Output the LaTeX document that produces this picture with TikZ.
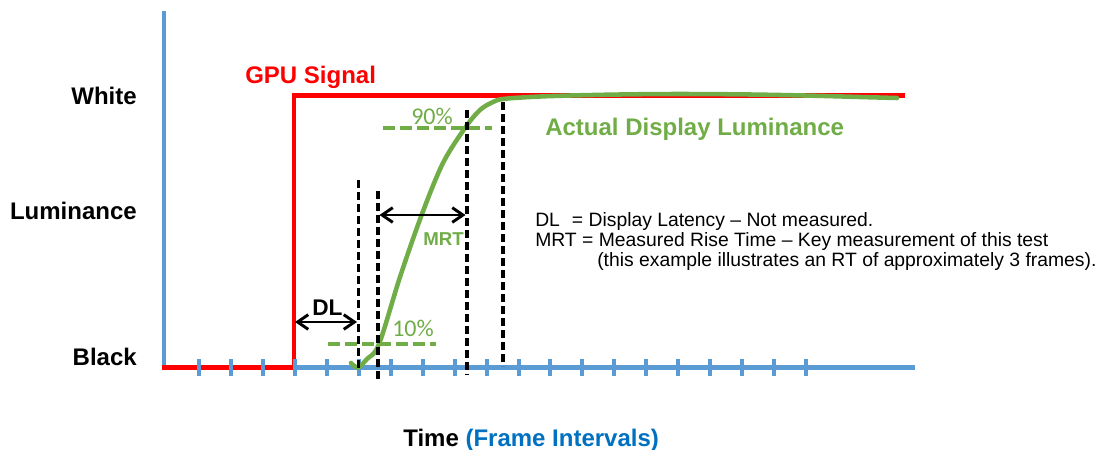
\documentclass[tikz,border=0pt]{standalone}
\usepackage{fontspec}
\setmainfont{Liberation Sans}
\newfontfamily\calib{Carlito}
\usetikzlibrary{arrows.meta}
\definecolor{axisblue}{HTML}{5B9BD5}
\definecolor{sigred}{HTML}{FF0000}
\definecolor{lumgreen}{HTML}{70AD47}
\definecolor{textblue}{HTML}{0070C0}
\begin{document}
\begin{tikzpicture}[x=0.75pt,y=-0.75pt,
  axisline/.style={axisblue,line width=3.2pt},
  tickmark/.style={axisblue,line width=3pt},
  gpuline/.style={sigred,line width=3.4pt,line join=miter},
  lumline/.style={lumgreen,line width=3.4pt,line cap=round},
  markerline/.style={black,line width=2.5pt,dash pattern=on 6pt off 3pt},
  levelline/.style={lumgreen,line width=3pt,dash pattern=on 9pt off 3.75pt},
  spanarrow/.style={black,line width=2.2pt,{Straight Barb[length=8pt,width=11pt]}-{Straight Barb[length=8pt,width=11pt]}},
  bigbold/.style={font=\fontsize{18}{21}\selectfont\bfseries,inner sep=0pt},
  pct/.style={font=\calib\fontsize{18}{21}\selectfont,text=lumgreen,inner sep=0pt,anchor=base west},
  legendtext/.style={font=\fontsize{14.5}{17}\selectfont,inner sep=0pt,anchor=base west}
]
\useasboundingbox (0,0) rectangle (1115,450);

% axes
\coordinate (ytop) at (164,11);
\coordinate (origin) at (164,367.5);
\coordinate (xend) at (915,367.5);
\draw[axisline] (ytop) -- (origin) -- (xend);

% GPU signal
\coordinate (g0) at (162,367.5);
\coordinate (g1) at (294,367.5);
\coordinate (g2) at (294,95.5);
\coordinate (g3) at (905,95.5);
\draw[gpuline] (g0) -- (g1) -- (g2) -- (g3);

% frame ticks
\foreach \i in {0,...,19} \draw[tickmark] ({199+31.95*\i},359) -- ++(0,17);

% display luminance curve
\draw[lumline] plot[smooth,tension=0.55] coordinates {(351,363) (358,367.5) (367,359) (379,344) (400,277) (422,214) (443,163) (465,128) (480,110) (493,102) (503,99) (530,97) (563,95.7) (620,94.5) (680,94) (750,94.5) (813,95.7) (860,97) (897,98)};

% 10% / 90% levels
\coordinate (l10a) at (328,344); \coordinate (l10b) at (436,344);
\coordinate (l90a) at (383,128); \coordinate (l90b) at (492,128);
\draw[levelline] (l10a) -- (l10b);
\draw[levelline] (l90a) -- (l90b);

% vertical markers
\coordinate (m1t) at (358.5,180); \coordinate (m1b) at (358.5,369);
\coordinate (m2t) at (378,191);   \coordinate (m2b) at (378,380);
\coordinate (m3t) at (467,110);   \coordinate (m3b) at (467,375);
\coordinate (m4t) at (503,102);   \coordinate (m4b) at (503,366);
\draw[markerline] (m1t) -- (m1b);
\draw[markerline] (m2t) -- (m2b);
\draw[markerline] (m3t) -- (m3b);
\draw[markerline] (m4t) -- (m4b);

% spans
\coordinate (dlL) at (295,322); \coordinate (dlR) at (357,322);
\coordinate (mrtL) at (379.5,215); \coordinate (mrtR) at (465.5,215);
\draw[spanarrow] (dlL) -- (dlR);
\draw[spanarrow] (mrtL) -- (mrtR);

% labels
\node[bigbold,anchor=base east] (white) at (137,104) {White};
\node[bigbold,anchor=base east] (lumlabel) at (137,219) {Luminance};
\node[bigbold,anchor=base east] (blacklabel) at (137,365) {Black};
\node[bigbold,text=sigred,anchor=base west] (gpulabel) at (245,83.5) {GPU Signal};
\node[bigbold,text=lumgreen,anchor=base west] (actlabel) at (545,135) {Actual Display Luminance};
\node[bigbold,anchor=base west] (timelabel) at (403,446) {Time \textcolor{textblue}{(Frame Intervals)}};
\node[font=\fontsize{17}{20}\selectfont\bfseries,inner sep=0pt,anchor=base west] (dltext) at (312,315) {DL};
\node[font=\fontsize{14}{17}\selectfont\bfseries,text=lumgreen,inner sep=0pt,anchor=base west] (mrttext) at (423,245) {MRT};
\node[pct] (p90) at (411,124) {90\%};
\node[pct] (p10) at (392,336.5) {10\%};

% legend
\node[legendtext] (leg1) at (535,226.5) {\makebox[27.5pt][l]{DL}= Display Latency – Not measured.};
\node[legendtext] (leg2) at (535,246.5) {MRT = Measured Rise Time – Key measurement of this test};
\node[legendtext] (leg3) at (597,266.5) {(this example illustrates an RT of approximately 3 frames).};
\end{tikzpicture}
\end{document}
